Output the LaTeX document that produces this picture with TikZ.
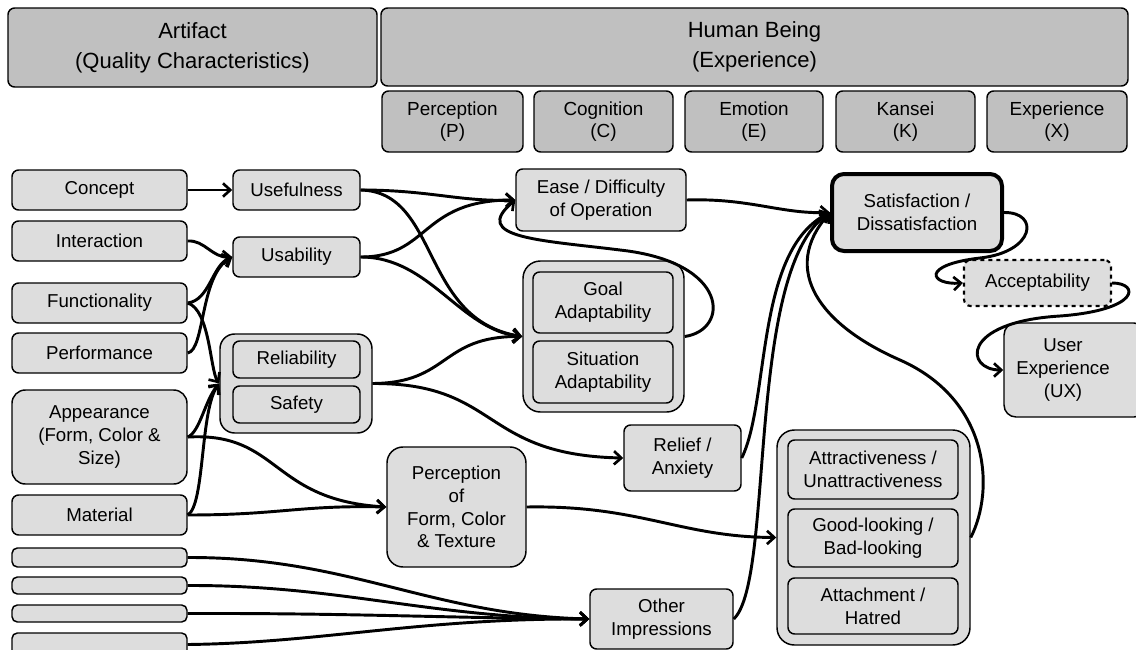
\documentclass[tikz,border=0pt]{standalone}
\usepackage{fontspec}
\setmainfont{Liberation Sans}
\usetikzlibrary{arrows.meta}
\definecolor{nfill}{RGB}{221,221,221}
\definecolor{hfill}{RGB}{192,192,192}
% \bx[style]{x1}{y1}{x2}{y2}{name}{text}  (pixel coordinates)
\newcommand\bx[7][]{\node[box,#1, minimum width={(#4-#2)*0.75pt}, minimum height={(#5-#3)*0.75pt}] (#6) at ({(#2+#4)/2},{(#3+#5)/2}) {#7};}
\begin{document}
\begin{tikzpicture}[x=0.75pt,y=-0.75pt,
 box/.style={draw=black, line width=1.1pt, fill=nfill, rounded corners=5pt, inner sep=0pt, align=center, font=\fontsize{14}{17}\selectfont},
 head/.style={fill=hfill, font=\fontsize{16.5}{22.5}\selectfont},
 subhead/.style={fill=hfill, font=\fontsize{14.2}{17}\selectfont},
 grp/.style={rounded corners=11pt},
 txt/.style={align=center, inner sep=0pt, font=\fontsize{14}{17}\selectfont},
 conn/.style={line width=2.2pt, -{Straight Barb[length=5.5pt,width=10pt,line width=2pt]}}]
\useasboundingbox (0,0) rectangle (1136,650);
% headers
\bx[head]{8}{8}{377}{87}{artifact}{Artifact\\(Quality Characteristics)}
\bx[head]{381}{8}{1128}{86}{human}{Human Being\\(Experience)}
\bx[subhead]{382}{91}{523}{152}{perc}{Perception\\(P)}
\bx[subhead]{534}{91}{673}{152}{cogn}{Cognition\\(C)}
\bx[subhead]{685}{91}{823}{152}{emot}{Emotion\\(E)}
\bx[subhead]{836}{91}{975}{152}{kans}{Kansei\\(K)}
\bx[subhead]{987}{91}{1127}{152}{expe}{Experience\\(X)}
% left column
\bx{12}{170}{187}{210}{concept}{Concept}
\bx{12}{221}{187}{261}{interaction}{Interaction}
\bx{12}{283}{187}{323}{functionality}{Functionality}
\bx{12}{333}{187}{373}{performance}{Performance}
\bx[rounded corners=10pt]{12}{390}{187}{484}{appearance}{Appearance\\(Form, Color \&\\Size)}
\bx{12}{495}{187}{535}{material}{Material}
\bx[rounded corners=4pt]{12}{548}{187}{567}{bara}{}
\bx[rounded corners=4pt]{12}{577}{187}{594}{barb}{}
\bx[rounded corners=4pt]{12}{605}{187}{622}{barc}{}
\bx[rounded corners=4pt]{12}{633}{187}{656}{bard}{}
% second column
\bx{233}{170}{360}{210}{usefulness}{Usefulness}
\bx{233}{237}{360}{277}{usability}{Usability}
\bx[grp]{220}{334}{372}{433}{relgroup}{}
\bx{233}{341}{360}{378}{reliability}{Reliability}
\bx{233}{386}{360}{423}{safety}{Safety}
\bx[rounded corners=12pt]{387}{447}{526}{567}{perform}{Perception\\of\\Form, Color\\\& Texture}
% third column
\bx{516}{169}{686}{231}{ease}{Ease / Difficulty\\of Operation}
\bx[grp, rounded corners=13pt]{523}{261}{684}{412}{goalgroup}{}
\bx{533}{272}{673}{333}{goal}{Goal\\Adaptability}
\bx{533}{341}{673}{403}{situation}{Situation\\Adaptability}
\bx{624}{425}{741}{491}{relief}{Relief /\\Anxiety}
\bx{590}{589}{733}{649}{other}{Other\\Impressions}
% right part
\bx[line width=3pt, rounded corners=9pt]{832}{174}{1002}{251}{sat}{Satisfaction /\\Dissatisfaction}
\bx[dashed, line width=1.6pt]{964}{260}{1111}{306}{accept}{Acceptability}
\bx[rounded corners=9pt]{1004}{323}{1146}{417}{ux}{}
\node[txt] (uxtext) at (1063,370) {User\\Experience\\(UX)};
\bx[grp, rounded corners=13pt]{777}{430}{970}{645}{attrgroup}{}
\bx{788}{440}{958}{499}{attr}{Attractiveness /\\Unattractiveness}
\bx{788}{509}{958}{567}{good}{Good-looking /\\Bad-looking}
\bx{788}{578}{958}{634}{attach}{Attachment /\\Hatred}
% connectors: artifact -> second column
\draw[conn] (concept.east) -- (usefulness.west);
\draw[conn] (interaction.east) .. controls (205,240) and (212,258) .. (usability.west);
\draw[conn] (functionality.east) .. controls (210,300) and (212,265) .. (usability.west);
\draw[conn] (performance.east) .. controls (205,350) and (200,275) .. (usability.west);
\draw[conn] (functionality.east) .. controls (210,310) and (210,370) .. (relgroup.west);
\draw[conn] (appearance.east) .. controls (200,432) and (205,400) .. (relgroup.west);
\draw[conn] (material.east) .. controls (205,505) and (200,410) .. (relgroup.west);
\draw[conn] (appearance.east) .. controls (280,432) and (270,500) .. (perform.west);
\draw[conn] (material.east) .. controls (280,515) and (300,505) .. (perform.west);
\draw[conn] (bara.east) .. controls (350,557) and (430,615) .. (other.west);
\draw[conn] (barb.east) .. controls (340,585) and (430,618) .. (other.west);
\draw[conn] (barc.east) .. controls (350,613) and (450,618) .. (other.west);
\draw[conn] (bard.east) .. controls (320,643) and (420,618) .. (other.west);
% second -> third column
\draw[conn] (usefulness.east) .. controls (430,190) and (460,202) .. (ease.west);
\draw[conn] (usefulness.east) .. controls (440,192) and (420,320) .. (goalgroup.west);
\draw[conn] (usability.east) .. controls (430,257) and (420,200) .. (ease.west);
\draw[conn] (usability.east) .. controls (430,257) and (460,330) .. (goalgroup.west);
\draw[conn] (relgroup.east) .. controls (450,383) and (440,336) .. (goalgroup.west);
\draw[conn] (relgroup.east) .. controls (500,383) and (480,455) .. (relief.west);
\draw[conn] (goalgroup.east) .. controls (730,330) and (730,262) .. (620,250) .. controls (540,240) and (470,238) .. (ease.west);
% third -> satisfaction
\draw[conn] (ease.east) .. controls (750,198) and (780,214) .. (sat.west);
\draw[conn] (relief.east) .. controls (770,400) and (755,250) .. (sat.west);
\draw[conn] (other.east) .. controls (775,580) and (745,270) .. (sat.west);
\draw[conn] (perform.east) .. controls (640,505) and (680,537) .. (attrgroup.west);
\draw[conn] (attrgroup.east) .. controls (995,490) and (990,400) .. (900,360) .. controls (820,325) and (780,270) .. (sat.west);
% satisfaction -> acceptability -> UX
\draw[conn] (sat.east) .. controls (1040,212) and (1035,252) .. (980,258) .. controls (920,265) and (930,285) .. (accept.west);
\draw[conn] (accept.east) .. controls (1140,283) and (1140,310) .. (1060,316) .. controls (960,322) and (965,370) .. (ux.west);
\end{tikzpicture}
\end{document}
